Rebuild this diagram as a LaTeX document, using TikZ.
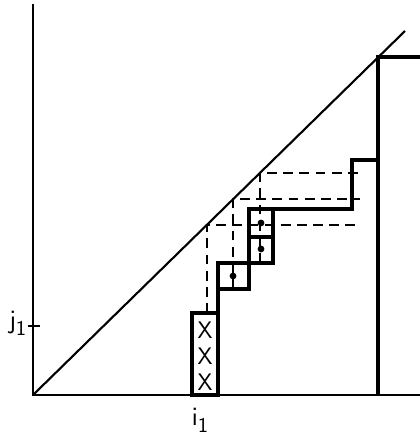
\documentclass[tikz,border=0pt]{standalone}
\usepackage{tikz}
\usetikzlibrary{positioning,calc}
\tikzset{axis/.style={line width=1.8pt,black},
         stair/.style={line width=2.6pt,black,line join=miter},
         guide/.style={line width=1.7pt,black,dash pattern=on 7pt off 4.5pt},
         cell/.style={stair},
         mark x/.style={font=\sffamily\fontsize{17}{17}\selectfont,inner sep=0pt},
         lab/.style={font=\sffamily\fontsize{19}{19}\selectfont,inner sep=1pt}}

\begin{document}
\begin{tikzpicture}[x=0.25mm,y=0.25mm]
 \useasboundingbox (-33,-40) rectangle (387,395);
 % axes and diagonal
 \coordinate (o) at (0,0);
 \draw[axis] (0,391) -- (o) -- (387,0);
 \draw[axis,line width=1.5pt] (o) -- (372,364);
 % dashed guides from the diagonal
 \draw[guide] (174,82) -- (174,170) -- (327,170);
 \draw[guide] (200,106) -- (200,196) -- (327,196);
 \draw[guide] (227,132) -- (227,222) -- (327,222);
 % cells
 \draw[cell] (159,0) rectangle (185,82);
 \draw[cell] (185,106) rectangle (216,132);
 \draw[cell] (216,132) rectangle (240,158);
 \draw[cell] (216,158) rectangle (240,186);
 \draw[stair] (185,0) -- (185,106);
 \draw[stair] (240,186) -- (319,186) -- (319,235) -- (345,235);
 \draw[stair] (345,0) -- (345,338) -- (387,338);
 % marks
 \foreach \y in {13,39,65} \node[mark x] at (172,\y) {X};
 \foreach \p in {(200,119),(228,146),(228,172)} \fill \p circle (2.4pt);
 % labels
 \draw[axis] (-5,69) -- (7,69);
 \node[lab,left=0pt of {(-5,72)}] (jlab) {j\raisebox{-0.6ex}{\fontsize{15}{15}\selectfont 1}};
 \node[lab,below=8pt of {(167,0)}] (ilab) {i\raisebox{-0.6ex}{\fontsize{15}{15}\selectfont 1}};
\end{tikzpicture}
\end{document}
